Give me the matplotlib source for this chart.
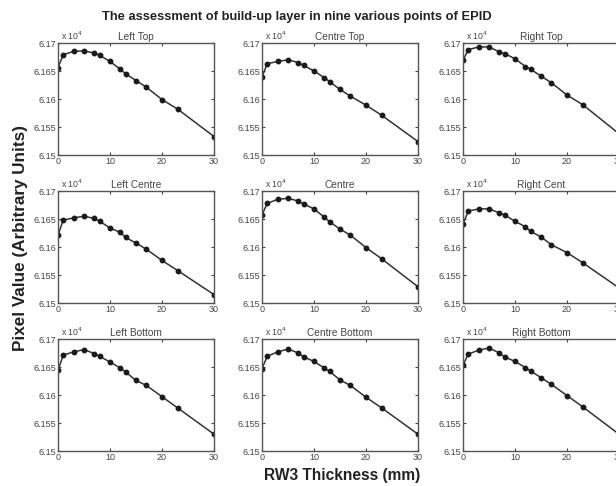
import matplotlib
matplotlib.use("Agg")
import matplotlib.pyplot as plt
from matplotlib.ticker import FuncFormatter, FixedLocator

plt.rcParams['font.family'] = ['Liberation Sans', 'DejaVu Sans']

thickness = [0, 1, 3, 5, 7, 8, 10, 12, 13, 15, 17, 20, 23, 30]

titles = ["Left Top", "Centre Top", "Right Top",
          "Left Centre", "Centre", "Right Cent",
          "Left Bottom", "Centre Bottom", "Right Bottom"]

left_top = [61656, 61679, 61685, 61686, 61682, 61678, 61667, 61653, 61645, 61633, 61621, 61599, 61582, 61533]
centre_top = [61639, 61663, 61667, 61670, 61665, 61660, 61650, 61638, 61631, 61617, 61605, 61589, 61571, 61524]
right_top = [61669, 61688, 61693, 61693, 61684, 61681, 61672, 61658, 61653, 61641, 61629, 61607, 61590, 61538]
left_centre = [61621, 61648, 61652, 61655, 61651, 61646, 61634, 61626, 61617, 61607, 61596, 61576, 61558, 61515]
centre = [61657, 61678, 61685, 61687, 61682, 61677, 61668, 61653, 61645, 61632, 61621, 61599, 61579, 61529]
right_cent = [61641, 61664, 61668, 61668, 61661, 61657, 61646, 61636, 61628, 61618, 61604, 61590, 61572, 61527]
left_bottom = [61644, 61671, 61677, 61681, 61674, 61669, 61659, 61648, 61641, 61626, 61617, 61597, 61577, 61530]
centre_bottom = [61647, 61669, 61677, 61682, 61675, 61668, 61660, 61648, 61642, 61627, 61617, 61596, 61577, 61530]
right_bottom = [61653, 61673, 61680, 61684, 61675, 61668, 61660, 61649, 61643, 61631, 61619, 61599, 61579, 61530]

series = [left_top, centre_top, right_top,
          left_centre, centre, right_cent,
          left_bottom, centre_bottom, right_bottom]

yticks = [61500, 61550, 61600, 61650, 61700]
xticks = [0, 10, 20, 30]

W, H = 616, 486
fig = plt.figure(figsize=(W / 100, H / 100), dpi=100)

col_left = [58, 262, 463]
row_top = [43, 191, 339]
aw, ah = 156, 112

fmt = FuncFormatter(lambda v, p: f"{v / 1e4:g}")

for i, (title, vals) in enumerate(zip(titles, series)):
    r, c = divmod(i, 3)
    ax = fig.add_axes([col_left[c] / W, 1 - (row_top[r] + ah) / H, aw / W, ah / H])
    ax.plot(thickness, vals, color='#333333', lw=1.1, marker='o', ms=3.2,
            mfc='#1a1a1a', mec='#1a1a1a')
    ax.set_xlim(0, 30)
    ax.set_ylim(61500, 61700)
    ax.xaxis.set_major_locator(FixedLocator(xticks))
    ax.yaxis.set_major_locator(FixedLocator(yticks))
    ax.yaxis.set_major_formatter(fmt)
    ax.tick_params(direction='in', length=2.5, width=0.8, top=True, right=True,
                   labelsize=6.5, colors='#444444', pad=1.5)
    for s in ax.spines.values():
        s.set_color('#555555')
        s.set_linewidth(1.0)
    ax.set_title(title, fontsize=7.3, color='#444444', pad=2)
    ax.text(0.02, 1.01, r"x 10$^4$", transform=ax.transAxes, fontsize=6.3,
            color='#444444', ha='left', va='bottom')

fig.text(297 / W, 1 - 17 / H, "The assessment of build-up layer in nine various points of EPID",
         ha='center', va='center', fontsize=9.3, fontweight='bold', color='#222222')
fig.text(21 / W, 1 - 238 / H, "Pixel Value (Arbitrary Units)", rotation=90,
         ha='center', va='center', fontsize=12.3, fontweight='bold', color='#222222')
fig.text(342 / W, 1 - 475 / H, "RW3 Thickness (mm)",
         ha='center', va='center', fontsize=11.2, fontweight='bold', color='#222222')

fig.savefig("out.png", dpi=100)
